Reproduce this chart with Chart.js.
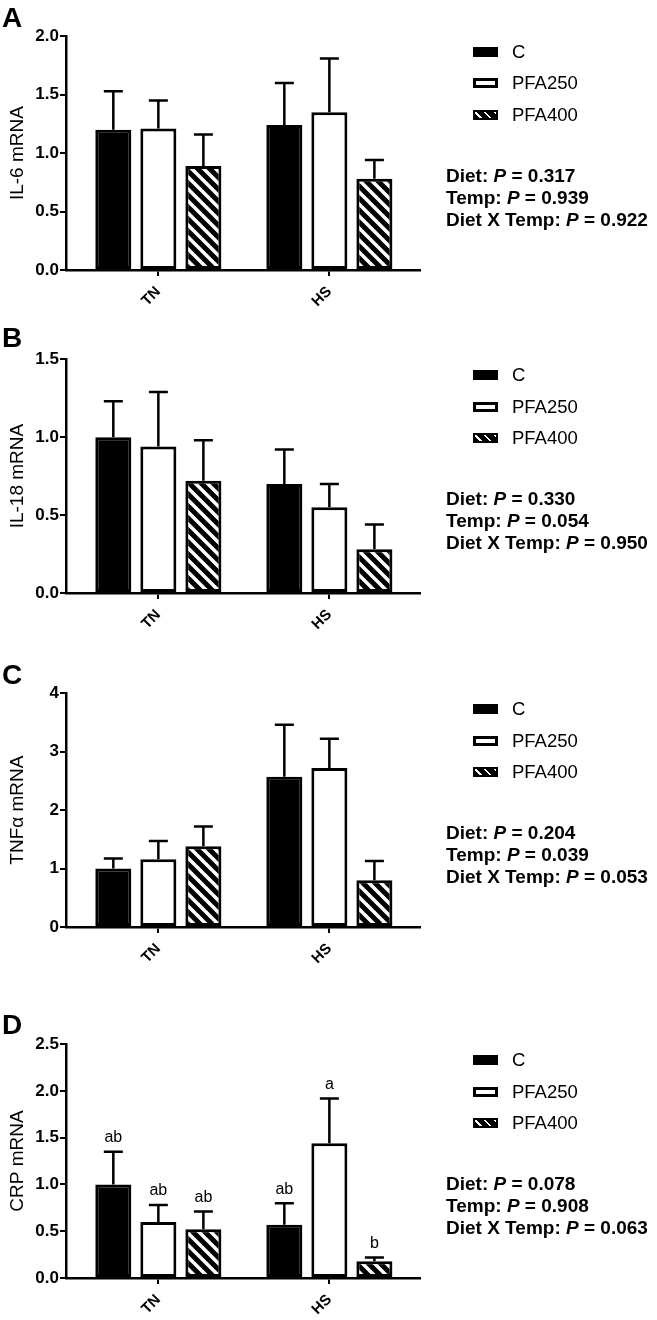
<!DOCTYPE html>
<html>
<head>
<meta charset="utf-8">
<script src="https://cdn.jsdelivr.net/npm/chart.js@4.4.1/dist/chart.umd.min.js"></script>
<style>
  body { margin: 0; background: #fff; width: 657px; height: 1320px; position: relative; overflow: hidden;
         font-family: "Liberation Sans", Arial, sans-serif; color: #000; }
  .panel { position: absolute; left: 0; width: 657px; height: 285px; }
  .panel canvas { position: absolute; left: 0; top: 0; }
  .letter { position: absolute; left: 2px; font-size: 28px; font-weight: bold; line-height: 27px; }
  .row { position: absolute; left: 473px; height: 20px; width: 170px; }
  .sw { position: absolute; left: 0; top: 5px; width: 25px; height: 10px; box-sizing: border-box; }
  .sw.c { background: #000; }
  .sw.p250 { background: #fff; border: 3px solid #000; }
  .sw.p400 { border: 2px solid #000;
             background: repeating-linear-gradient(45deg, #000 0 3px, #fff 3px 5px, #000 5px 7px); }
  .lab { position: absolute; left: 39px; top: 0; line-height: 20px; font-size: 18.5px; }
  .stat { position: absolute; left: 446px; height: 22px; line-height: 22px; font-size: 19px; font-weight: bold; white-space: nowrap; }
</style>
</head>
<body>
<script>
// Diet groups and temperature groups
const categories = ['TN', 'HS'];
const diets = ['C', 'PFA250', 'PFA400'];

// A - IL-6 (mean and SEM per diet: [TN, HS])
const il6Mean = [[1.20, 1.24], [1.21, 1.35], [0.89, 0.78]];
const il6Sem = [[0.33, 0.36], [0.24, 0.46], [0.27, 0.16]];
const il6Ticks = [0, 0.5, 1.0, 1.5, 2.0];
const il6P = ['0.317', '0.939', '0.922'];

// B - IL-18
const il18Mean = [[1.00, 0.70], [0.94, 0.55], [0.72, 0.28]];
const il18Sem = [[0.23, 0.22], [0.35, 0.15], [0.26, 0.16]];
const il18Ticks = [0, 0.5, 1.0, 1.5];
const il18P = ['0.330', '0.054', '0.950'];

// C - TNFa
const tnfMean = [[1.00, 2.57], [1.16, 2.72], [1.38, 0.80]];
const tnfSem = [[0.17, 0.89], [0.31, 0.50], [0.34, 0.33]];
const tnfTicks = [0, 1, 2, 3, 4];
const tnfP = ['0.204', '0.039', '0.053'];

// D - CRP
const crpMean = [[1.00, 0.57], [0.60, 1.44], [0.52, 0.18]];
const crpSem = [[0.35, 0.23], [0.18, 0.48], [0.19, 0.04]];
const crpTicks = [0, 0.5, 1.0, 1.5, 2.0, 2.5];
const crpMarks = [['ab', 'ab'], ['ab', 'a'], ['ab', 'b']];
const crpP = ['0.078', '0.908', '0.063'];

const FONT = '"Liberation Sans", Arial, sans-serif';
Chart.defaults.font.family = FONT;
Chart.defaults.color = '#000';

// black with white "\" stripes
function hatchPattern() {
  const n = 12;
  const c = document.createElement('canvas');
  c.width = n; c.height = n;
  const g = c.getContext('2d');
  g.fillStyle = '#000';
  g.fillRect(0, 0, n, n);
  g.strokeStyle = '#fff';
  g.lineWidth = 3.5;
  g.beginPath();
  g.moveTo(-3, -3); g.lineTo(n + 3, n + 3);
  g.moveTo(-3, n - 3); g.lineTo(3, n + 3);
  g.moveTo(n - 3, -3); g.lineTo(n + 3, 3);
  g.stroke();
  return g.createPattern(c, 'repeat');
}
const hatch = hatchPattern();

const errorBars = {
  id: 'errorBars',
  afterDatasetsDraw(chart) {
    const { ctx } = chart;
    const y = chart.scales.y;
    chart.data.datasets.forEach((ds, di) => {
      chart.getDatasetMeta(di).data.forEach((bar, i) => {
        const top = y.getPixelForValue(ds.data[i].y + ds.sem[i]);
        ctx.save();
        ctx.strokeStyle = '#000';
        ctx.lineWidth = 2.5;
        ctx.beginPath();
        ctx.moveTo(bar.x, bar.y);
        ctx.lineTo(bar.x, top);
        ctx.moveTo(bar.x - 9.5, top);
        ctx.lineTo(bar.x + 9.5, top);
        ctx.stroke();
        if (ds.marks) {
          ctx.fillStyle = '#000';
          ctx.font = '16px ' + FONT;
          ctx.textAlign = 'center';
          ctx.textBaseline = 'middle';
          ctx.fillText(ds.marks[i], bar.x, top - 14);
        }
        ctx.restore();
      });
    });
  }
};

const fills = ['#000', '#fff', hatch];

function makePanel(cfg) {
  const div = document.createElement('div');
  div.className = 'panel';
  div.style.top = (cfg.axisTop - 10) + 'px';
  document.body.appendChild(div);

  const canvas = document.createElement('canvas');
  canvas.width = 657;
  canvas.height = 285;
  div.appendChild(canvas);

  const letter = document.createElement('div');
  letter.className = 'letter';
  letter.style.top = (cfg.letterTop - cfg.axisTop + 10) + 'px';
  letter.textContent = cfg.letter;
  div.appendChild(letter);

  const swClass = ['c', 'p250', 'p400'];
  diets.forEach((d, i) => {
    const row = document.createElement('div');
    row.className = 'row';
    row.style.top = (27 + i * 31.5 - 10) + 'px';
    row.innerHTML = '<div class="sw ' + swClass[i] + '"></div><div class="lab">' + d + '</div>';
    div.appendChild(row);
  });

  const statNames = ['Diet', 'Temp', 'Diet X Temp'];
  statNames.forEach((s, i) => {
    const st = document.createElement('div');
    st.className = 'stat';
    st.style.top = (151 + i * 22 - 11) + 'px';
    st.innerHTML = s + ': <i>P</i> = ' + cfg.p[i];
    div.appendChild(st);
  });

  const ticks = cfg.ticks;
  new Chart(canvas.getContext('2d'), {
    type: 'bar',
    data: {
      datasets: diets.map((d, i) => ({
        label: d,
        data: categories.map((c, j) => ({ x: j, y: cfg.mean[i][j] })),
        sem: cfg.sem[i],
        marks: cfg.marks ? cfg.marks[i] : null,
        backgroundColor: fills[i],
        borderColor: '#000',
        borderWidth: 3,
        borderSkipped: false,
        categoryPercentage: 0.79,
        barPercentage: 0.8
      }))
    },
    options: {
      responsive: false,
      animation: false,
      layout: { padding: { left: 0, right: 237, top: 10, bottom: 0 } },
      plugins: { legend: { display: false }, tooltip: { enabled: false } },
      scales: {
        x: {
          type: 'linear',
          min: -0.54,
          max: 1.53,
          offset: false,
          afterBuildTicks: s => { s.ticks = categories.map((c, j) => ({ value: j })); },
          afterFit: s => { s.height = 40; },
          border: { display: true, color: '#000', width: 2.5 },
          grid: { display: true, offset: false, drawOnChartArea: false, tickLength: 6, color: '#000', lineWidth: 2 },
          ticks: { color: '#000', font: { size: 15, weight: 'bold' }, minRotation: 45, maxRotation: 45, padding: 7,
                   callback: v => categories[v] }
        },
        y: {
          min: ticks[0],
          max: ticks[ticks.length - 1],
          afterBuildTicks: s => { s.ticks = ticks.map(v => ({ value: v })); },
          afterFit: s => { s.width = 66; },
          border: { display: true, color: '#000', width: 2.5 },
          grid: { display: true, drawOnChartArea: false, tickLength: 6, color: '#000', lineWidth: 2 },
          ticks: { color: '#000', font: { size: 17, weight: 'bold' }, padding: 1,
                   callback: v => v.toFixed(cfg.decimals) },
          title: { display: true, text: cfg.title, color: '#000', font: { size: 19 }, padding: { top: 6, bottom: 0 } }
        }
      }
    },
    plugins: [errorBars]
  });
}

makePanel({ letter: 'A', letterTop: 3.5, axisTop: 34.5, title: 'IL-6 mRNA', mean: il6Mean, sem: il6Sem, ticks: il6Ticks, decimals: 1, p: il6P });
makePanel({ letter: 'B', letterTop: 324, axisTop: 358, title: 'IL-18 mRNA', mean: il18Mean, sem: il18Sem, ticks: il18Ticks, decimals: 1, p: il18P });
makePanel({ letter: 'C', letterTop: 661, axisTop: 692, title: 'TNFα mRNA', mean: tnfMean, sem: tnfSem, ticks: tnfTicks, decimals: 0, p: tnfP });
makePanel({ letter: 'D', letterTop: 1011, axisTop: 1043, title: 'CRP mRNA', mean: crpMean, sem: crpSem, ticks: crpTicks, decimals: 1, p: crpP, marks: crpMarks });
</script>
</body>
</html>
